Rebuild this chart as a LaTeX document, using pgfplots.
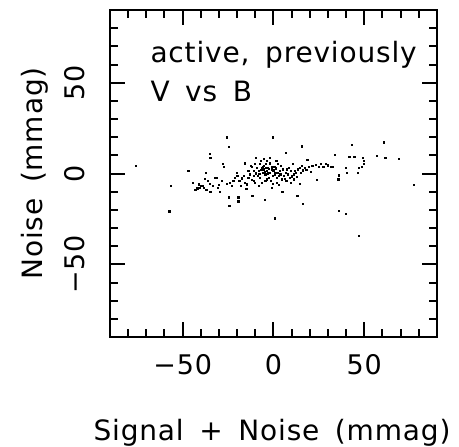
\documentclass[border=0pt]{standalone}
\usepackage{fontspec}
\setmainfont{DejaVu Sans}[LetterSpace=3, WordSpace=1.6]
\usepackage{pgfplots}
\pgfplotsset{compat=1.18}
\begin{document}
\begin{tikzpicture}[font=\fontsize{28bp}{32bp}\selectfont]
\useasboundingbox (-110bp,-110bp) rectangle (349bp,337bp);
\begin{axis}[
  at={(0,0)}, anchor=south west,
  scale only axis, width=327bp, height=327bp,
  xmin=-90, xmax=90, ymin=-90, ymax=90,
  xtick={-50,0,50}, ytick={-50,0,50},
  xticklabels={−50,0,50}, yticklabels={−50,0,50},
  minor xtick={-80,-70,...,80}, minor ytick={-80,-70,...,80},
  major tick length=15bp, minor tick length=8bp,
  tick align=inside, xtick pos=both, ytick pos=both,
  axis line style={line width=2bp}, every tick/.style={line width=2bp, black},
  tick label style={font=\fontsize{27bp}{30bp}\selectfont},
  xticklabel shift=14bp,
  yticklabel style={rotate=90, anchor=south},
  yticklabel shift=22bp,
]
\addplot[only marks, mark=square*, mark size=0.6bp, black] coordinates {
(-75.9,4.4) (-56.5,-6.5) (-57.4,-20.7) (-46.9,1.5) (-35.2,10.7) (-34.8,8.9)
(-25.9,20) (-24.8,14.8) (-27.8,5.2) (-27.2,3.9) (-0.4,20) (15.7,15) (6.5,11.3)
(43.1,15.9) (60.6,17.2) (33.9,10.4) (41.7,9.3) (44.4,9.3) (56.9,9.6) (61.5,8.7)
(68.9,8.1) (77.2,-6.1) (49.3,8.9) (49.6,7.0) (49.6,5.2) (48.7,3.9) (46.9,3.3)
(46.3,0.6) (39.8,3.3) (40.4,0.6) (35.6,-3.1) (36.1,-0.9) (36.1,-20.4) (39.8,-22)
(46.9,-34.3) (16.1,-16.5) (13,-12) (0.7,-24.6) (4.8,-10.2) (-5,-14.4) (-11.7,-12)
(-19.4,-15.2) (-19.4,-13) (-24.4,-17.6) (-24.8,-13) (-29.6,-10) (-25.9,-5.6)
(-34.8,-10) (24,-3.3) (14.4,-5.4)
(-44.4,-5) (-43.1,-9.1) (-42,-8.1) (-40.7,-7.8) (-39.3,-6.5) (-38.5,-7.8)
(-37.4,0.6) (-36.1,-4.1) (-35.2,-5.6) (-32.4,-2.2) (-31.1,-2.2) (-30.6,-7.8)
(-33.3,-6.9) (-37,-8.7) (-41.3,-5.9) (-24,-5) (-22.2,-4.1) (-20.4,0.4) (-20,-1.3)
(-18.9,-4.1) (-17.6,-2.6) (-18.1,-6.9) (-15.7,5.7) (-15.7,-5) (-13.9,-2.2)
(-14.8,-5.9) (-13,-0.4) (-12.6,4.3) (-11.1,-4.1) (-10.7,1.5) (-10.2,5.2)
(-9.6,8.9) (-9.3,3.3) (-8.9,-1.3) (-8.3,1.5) (-7.8,5.2) (-7.4,-2.2) (-7,7)
(-6.5,3.3) (-6.1,0.6) (-5.6,4.3) (-5.2,2.4) (-4.6,-0.4) (-4.3,5.6) (-3.7,1.5)
(-3.1,3.3) (-2.8,-2.2) (-2.2,5.2) (-1.9,0.6) (-1.5,-4.1) (-0.9,2.4) (-0.4,-1.3)
(0.4,3.9) (0.9,0.6) (1.9,-2.2) (2.4,5.2) (3.3,1.5) (3.7,-0.4) (4.3,-3.1)
(5.2,2.4) (5.6,-1.3) (6.5,0.6) (7,-4.1) (7.8,-0.4) (8.3,3.3) (8.9,-2.2)
(9.6,1.5) (10.4,5.2) (11.1,-0.4) (11.7,1.5) (12.4,0.6) (13.3,2.4) (14.3,3.3)
(14.8,0.6) (15.7,4.3) (17,3.3) (18.5,7.6) (19.4,3.9) (21.3,4.3) (23.1,4.8)
(25,3.9) (25.9,5.2) (27.4,3.7) (28.7,5.2) (30,4.6) (31.5,3.9) (32.8,3.9)
(-10.2,-5) (-8.3,-6.9) (-6.5,-5) (-4.6,-4.1) (-11.1,-1.3) (-13.9,1.5) (-12,3.9)
(-5.6,8) (-3.7,7) (-1.9,6.1) (1.5,7) (4,4.3) (7.4,2.4) (9.3,-5) (11.1,-3.1)
(-3.7,-3.1) (-0.6,-5.4) (1.9,-5)
(-6.8,2.0) (-5.9,3.8) (-4.9,1.1) (-4.0,3.0) (-3.4,0.2) (-2.5,2.8) (-1.2,3.6)
(-0.2,1.8) (0.6,-0.8) (1.3,2.9) (2.1,0.4) (2.9,-1.1) (-7.9,-0.3) (-9.9,0.2)
(-12.2,-3.2) (-16.5,-1.0) (-21.5,-2.5) (-23.0,-6.5) (-28.5,-4.0) (-30.0,-6.0)
(-40.0,-6.8) (-38.0,-3.0) (6.0,-2.8) (10.0,-1.5) (12.8,-1.9) (16.2,1.8)
(18.0,2.0) (20.5,1.0) (3.0,-6.0) (-1.0,-8.0) (-15.0,-8.5) (-2.0,8.5)
};
\end{axis}
\node[anchor=base west] at (37bp,274bp) {active, previously};
\node[anchor=base west] at (37bp,235bp) {V vs B};
\node[anchor=base] at (162bp,-103bp) {Signal + Noise (mmag)};
\node[rotate=90, anchor=base] at (-67bp,163.5bp) {Noise (mmag)};
\end{tikzpicture}
\end{document}
